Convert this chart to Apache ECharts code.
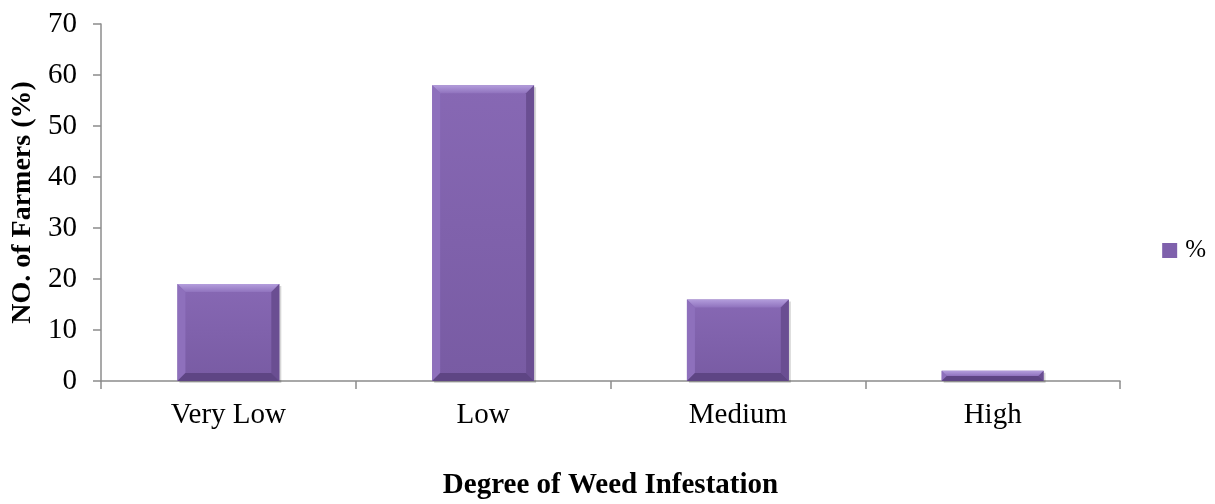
<!DOCTYPE html>
<html>
<head>
<meta charset="utf-8">
<script src="https://cdn.jsdelivr.net/npm/echarts@6/dist/echarts.min.js"></script>
<style>
  html, body { margin: 0; padding: 0; background: #fff; }
  #chart { width: 1215px; height: 504px; }
</style>
</head>
<body>
<div id="chart"></div>
<script>
const categories = ['Very Low', 'Low', 'Medium', 'High'];
const percentValues = [19, 58, 16, 2];
const yTicks = { min: 0, max: 70, interval: 10 };

const FONT = '"Liberation Serif", "Times New Roman", serif';
const FACE = '#7f61ac';

// Bevelled bar: flat face with light top/left and dark right/bottom edges.
function renderBevelBar(params, api) {
  const idx = api.value(0);
  const val = api.value(1);
  const top = api.coord([idx, val]);
  const base = api.coord([idx, 0]);
  const bandW = api.size([1, 0])[0];
  const w = bandW * 0.4;
  const x0 = top[0] - w / 2, x1 = top[0] + w / 2;
  const y0 = top[1], y1 = base[1];
  const h = y1 - y0;
  const b = Math.min(8, h / 2, w / 2);
  const poly = (pts, fill) => ({ type: 'polygon', shape: { points: pts }, style: { fill: fill } });
  return {
    type: 'group',
    children: [
      { type: 'rect', shape: { x: x0 + 2, y: y0 + 2, width: w, height: h },
        style: { fill: 'rgba(0,0,0,0.16)' } },
      { type: 'rect', shape: { x: x0, y: y0, width: w, height: h },
        style: { fill: new echarts.graphic.LinearGradient(0, 0, 0, 1, [
          { offset: 0, color: '#8768b4' }, { offset: 1, color: '#785ba3' }]) } },
      poly([[x0, y0], [x1, y0], [x1 - b, y0 + b], [x0 + b, y0 + b]],
        new echarts.graphic.LinearGradient(0, 0, 0, 1, [
          { offset: 0, color: '#b39ddc' }, { offset: 1, color: '#9073be' }])),
      poly([[x0, y0], [x0 + b, y0 + b], [x0 + b, y1 - b], [x0, y1]], '#8e70bc'),
      poly([[x1, y0], [x1, y1], [x1 - b, y1 - b], [x1 - b, y0 + b]], '#6a4e92'),
      poly([[x0, y1], [x0 + b, y1 - b], [x1 - b, y1 - b], [x1, y1]], '#5e4584')
    ]
  };
}

const chart = echarts.init(document.getElementById('chart'), null, { renderer: 'canvas' });
chart.setOption({
  animation: false,
  backgroundColor: '#ffffff',
  grid: { left: 101, right: 95, top: 24, bottom: 123, containLabel: false, outerBoundsMode: 'none' },
  legend: {
    data: ['%'],
    right: 4,
    top: 233,
    orient: 'vertical',
    icon: 'rect',
    itemWidth: 15,
    itemHeight: 15,
    textStyle: { fontFamily: FONT, fontSize: 25, color: '#000', padding: [0, 0, 0, 3] }
  },
  xAxis: {
    type: 'category',
    data: categories,
    name: 'Degree of Weed Infestation',
    nameLocation: 'middle',
    nameGap: 90,
    nameTextStyle: { fontFamily: FONT, fontSize: 29, fontWeight: 'bold', color: '#000' },
    axisLine: { lineStyle: { color: '#8c8c8c', width: 1.5 } },
    axisTick: { show: true, length: 8, lineStyle: { color: '#8c8c8c', width: 1.5 } },
    axisLabel: { fontFamily: FONT, fontSize: 29, color: '#000', margin: 20 },
    splitLine: { show: false }
  },
  yAxis: {
    type: 'value',
    min: yTicks.min,
    max: yTicks.max,
    interval: yTicks.interval,
    name: 'NO. of Farmers (%)',
    nameLocation: 'middle',
    nameGap: 64,
    nameRotate: 90,
    nameTextStyle: { fontFamily: FONT, fontSize: 28, fontWeight: 'bold', color: '#000' },
    axisLine: { show: true, lineStyle: { color: '#8c8c8c', width: 1.5 } },
    axisTick: { show: true, length: 8, lineStyle: { color: '#8c8c8c', width: 1.5 } },
    axisLabel: { fontFamily: FONT, fontSize: 29, color: '#000', margin: 24 },
    splitLine: { show: false }
  },
  series: [{
    name: '%',
    type: 'custom',
    itemStyle: { color: FACE },
    renderItem: renderBevelBar,
    encode: { x: 0, y: 1 },
    data: percentValues.map((v, i) => [i, v])
  }]
});
</script>
</body>
</html>
